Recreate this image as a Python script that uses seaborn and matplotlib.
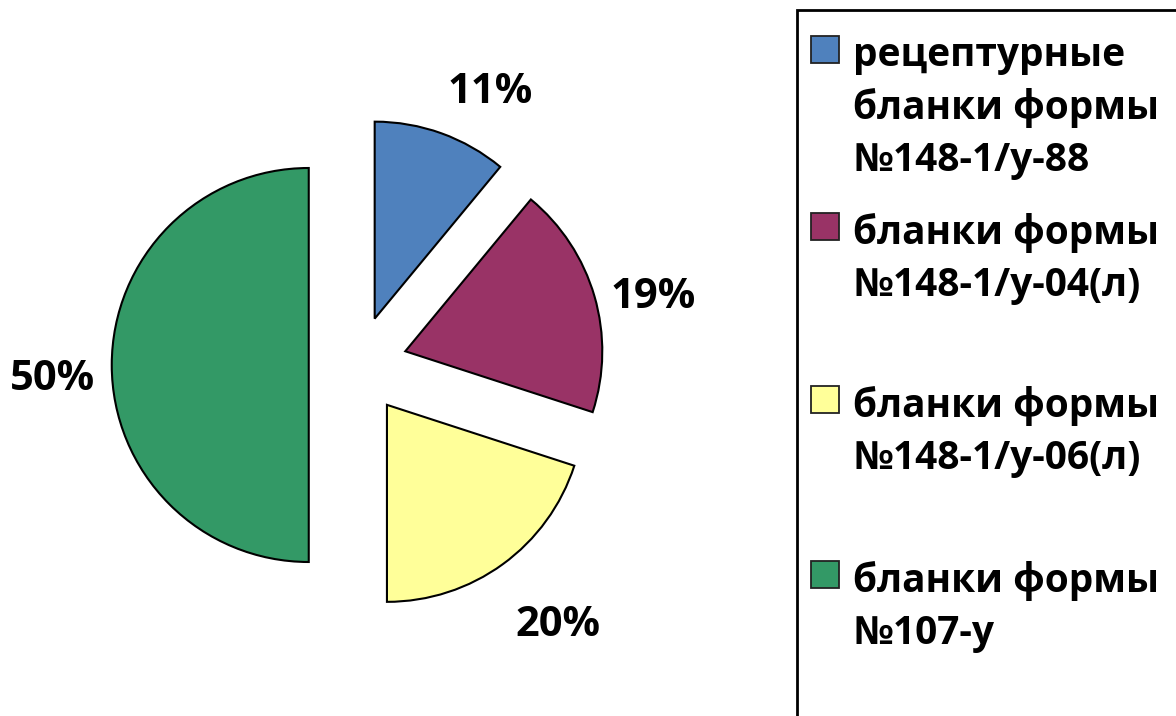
import matplotlib.pyplot as plt
import matplotlib.patches as mpatches
import seaborn as sns

labels = [
    "рецептурные\nбланки формы\n№148-1/у-88",
    "бланки формы\n№148-1/у-04(л)",
    "бланки формы\n№148-1/у-06(л)",
    "бланки формы\n№107-у",
]
shares = [11, 19, 20, 50]
colors = ["#4F81BD", "#993366", "#FFFF99", "#339966"]

sns.set_style("white")
plt.rcParams["font.family"] = ["Open Sans", "DejaVu Sans"]

fig = plt.figure(figsize=(11.76, 7.16), dpi=100)
W, H = 1176, 716

# pie area: 1 data unit = 197 px, centre at (358, 365) px from top-left
ax = fig.add_axes([0, 0, 780 / W, 1])
r_px = 197
cx, cy = 358, H - 365
wedges, texts, autotexts = ax.pie(
    shares,
    colors=colors,
    startangle=90,
    counterclock=False,
    explode=[0.25] * len(shares),
    autopct=lambda p: f"{p:.0f}%",
    pctdistance=1.32,
    wedgeprops=dict(edgecolor="black", linewidth=1.5),
    textprops=dict(fontsize=30, fontweight="bold", color="black"),
)
# small nudges toward Excel's "best fit" label spots (px)
nudges = [(27, -19), (-2, -19), (18, -10), (4, -15)]
for t, (dx, dy) in zip(autotexts, nudges):
    x, y = t.get_position()
    t.set_position((x + dx / r_px, y + dy / r_px))

ax.set_xlim(-cx / r_px, (780 - cx) / r_px)
ax.set_ylim(-cy / r_px, (H - cy) / r_px)
ax.set_aspect("auto")
ax.axis("off")

# legend box (cut off at the right and bottom like the original)
frame = mpatches.Rectangle((797 / W, -0.05), 0.5, (H - 10) / H + 0.05,
                           transform=fig.transFigure, fill=False,
                           edgecolor="black", linewidth=2, clip_on=False)
fig.patches.append(frame)

entry_tops = [36, 213, 386, 561]
for lab, col, top in zip(labels, colors, entry_tops):
    y = 1 - top / H
    fig.patches.append(mpatches.Rectangle((811 / W, y - 27 / H), 28 / W, 27 / H,
                                          transform=fig.transFigure,
                                          facecolor=col, edgecolor="#222222",
                                          linewidth=1.3))
    fig.text(853 / W, y, lab, ha="left", va="top", fontsize=28,
             fontweight="bold", color="black", linespacing=1.42)

plt.savefig("out.png", dpi=100)
plt.close()
